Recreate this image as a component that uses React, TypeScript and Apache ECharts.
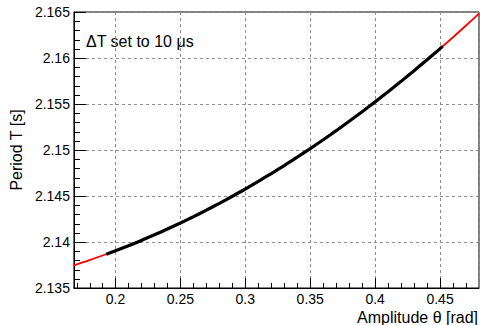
import React, { useEffect, useRef } from "react";
import * as echarts from "echarts";

// Fitted curve (red)
const fitTheta = [0.168, 0.18, 0.2, 0.22, 0.24, 0.26, 0.28, 0.3, 0.32, 0.34, 0.36, 0.38, 0.4, 0.42, 0.44, 0.46, 0.47, 0.48];
const fitPeriod = [2.13747, 2.13803, 2.13905, 2.14017, 2.14141, 2.14275, 2.1442, 2.14576, 2.14744, 2.14922, 2.15111, 2.15312, 2.15523, 2.15746, 2.1598, 2.16226, 2.16353, 2.16483];

// Measured data (black band)
const dataTheta = [0.193, 0.2, 0.21, 0.22, 0.23, 0.24, 0.25, 0.26, 0.27, 0.28, 0.29, 0.3, 0.31, 0.32, 0.33, 0.34, 0.35, 0.36, 0.37, 0.38, 0.39, 0.4, 0.41, 0.42, 0.43, 0.44, 0.45, 0.452];
const dataPeriod = [2.13868, 2.13905, 2.1396, 2.14017, 2.14078, 2.14141, 2.14207, 2.14275, 2.14346, 2.1442, 2.14497, 2.14576, 2.14659, 2.14744, 2.14831, 2.14922, 2.15015, 2.15111, 2.1521, 2.15312, 2.15416, 2.15523, 2.15633, 2.15746, 2.15862, 2.1598, 2.16102, 2.16126];

// Axis ranges and ticks
const xRange = [0.168, 0.48];
const yRange = [2.135, 2.165];
const yStep = 0.005;
const xMinorTicks = [0.17, 0.18, 0.19, 0.21, 0.22, 0.23, 0.24, 0.26, 0.27, 0.28, 0.29, 0.31, 0.32, 0.33, 0.34, 0.36, 0.37, 0.38, 0.39, 0.41, 0.42, 0.43, 0.44, 0.46, 0.47];
const yMinorTicks = [2.136, 2.137, 2.138, 2.139, 2.141, 2.142, 2.143, 2.144, 2.146, 2.147, 2.148, 2.149, 2.151, 2.152, 2.153, 2.154, 2.156, 2.157, 2.158, 2.159, 2.161, 2.162, 2.163, 2.164];

const annotation = "\u0394T set to 10 \u03bcs";
const xTitle = "Amplitude \u03b8 [rad]";
const yTitle = "Period T [s]";

const FONT = '"Liberation Sans", Arial, Helvetica, sans-serif';

export default function App() {
  const ref = useRef<HTMLDivElement>(null);
  useEffect(() => {
    if (!ref.current) return;
    const chart = echarts.init(ref.current, null, { renderer: "svg" });
    const grid = "#8c8c8c";
    const tickSeries = (pts: number[][], dx: number, dy: number) => ({
      type: "custom",
      coordinateSystem: "cartesian2d",
      silent: true,
      clip: false,
      z: 5,
      data: pts,
      encode: { x: 0, y: 1 },
      renderItem: (params: any, api: any) => {
        const p = api.coord([api.value(0), api.value(1)]);
        const x = dx ? Math.round(p[0]) : Math.round(p[0]) + 0.5;
        const y = dy ? Math.round(p[1]) : Math.round(p[1]) + 0.5;
        return {
          type: "line",
          shape: { x1: x, y1: y, x2: x + dx, y2: y + dy },
          style: { stroke: "#000", lineWidth: 1 },
        };
      },
    });
    chart.setOption({
      animation: false,
      grid: { left: 66, right: 1, top: 12, bottom: 37, show: true, borderColor: "#000", borderWidth: 1, backgroundColor: "transparent" },
      xAxis: {
        type: "value",
        min: xRange[0],
        max: xRange[1],
        splitNumber: 5,
        axisLine: { show: true, lineStyle: { color: "#000", width: 1 } },
        axisTick: { show: true, inside: true, length: 10, lineStyle: { color: "#000", width: 1 } },
        axisLabel: {
          showMinLabel: false,
          showMaxLabel: false,
          color: "#000",
          fontSize: 14,
          fontFamily: FONT,
          margin: 4,
          formatter: (v: number) => (Math.abs(v * 20 - Math.round(v * 20)) < 1e-6 ? String(+v.toFixed(2)) : ""),
        },
        splitLine: { show: true, lineStyle: { color: grid, width: 1, type: [3, 3] } },
      },
      yAxis: {
        type: "value",
        min: yRange[0],
        max: yRange[1],
        interval: yStep,
        axisLine: { show: true, lineStyle: { color: "#000", width: 1 } },
        axisTick: { show: true, inside: true, length: 12, lineStyle: { color: "#000", width: 1 } },
        axisLabel: {
          color: "#000",
          fontSize: 14,
          fontFamily: FONT,
          margin: 4,
          formatter: (v: number) => String(+v.toFixed(3)),
        },
        splitLine: { show: true, lineStyle: { color: grid, width: 1, type: [3, 3] } },
        name: yTitle,
        nameLocation: "middle",
        nameGap: 42,
        nameTextStyle: { color: "#000", fontSize: 16, fontFamily: FONT },
      },
      series: [
        {
          type: "line",
          data: fitTheta.map((t, i) => [t, fitPeriod[i]]),
          showSymbol: false,
          smooth: 0.3,
          lineStyle: { color: "#ff0000", width: 1.8 },
          z: 2,
          silent: true,
        },
        {
          type: "line",
          data: dataTheta.map((t, i) => [t, dataPeriod[i]]),
          showSymbol: false,
          smooth: 0.3,
          lineStyle: { color: "#000", width: 3.2 },
          z: 3,
          silent: true,
        },
        tickSeries(xMinorTicks.map((t) => [t, yRange[0]]), 0, -5),
        tickSeries(yMinorTicks.map((v) => [xRange[0], v]), 6, 0),
      ],
      graphic: [
        {
          type: "text",
          x: 86,
          y: 41,
          style: { text: annotation, fill: "#000", fontSize: 16, fontFamily: FONT, align: "left", verticalAlign: "middle" },
        },
        {
          type: "text",
          x: 478,
          y: 317,
          style: { text: xTitle, fill: "#000", fontSize: 16, fontFamily: FONT, align: "right", verticalAlign: "middle" },
        },
      ],
    });
    return () => chart.dispose();
  }, []);
  return <div ref={ref} style={{ position: "fixed", left: 0, top: 0, width: 480, height: 325, background: "#fff" }} />;
}
